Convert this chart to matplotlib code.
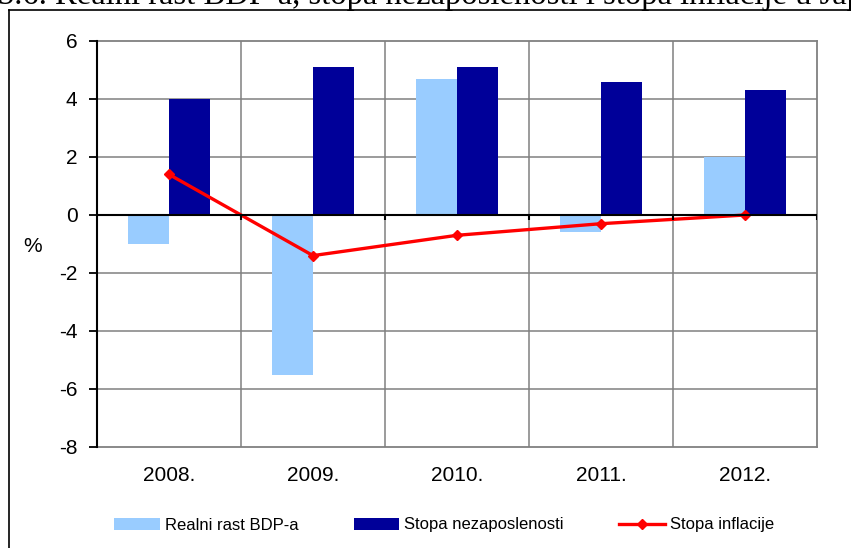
import matplotlib
matplotlib.use("Agg")
import matplotlib.pyplot as plt
from matplotlib.lines import Line2D
import numpy as np

plt.rcParams['axes.unicode_minus'] = False
plt.rcParams['font.family'] = ['Liberation Sans', 'DejaVu Sans']

years = ["2008.", "2009.", "2010.", "2011.", "2012."]
gdp_growth = [-1.0, -5.5, 4.7, -0.6, 2.0]
unemployment = [4.0, 5.1, 5.1, 4.6, 4.3]
inflation = [1.4, -1.4, -0.7, -0.3, 0.0]
yticks = [-8, -6, -4, -2, 0, 2, 4, 6]
labels = ["Realni rast BDP-a", "Stopa nezaposlenosti", "Stopa inflacije"]
title = "5.6. Realni rast BDP-a, stopa nezaposlenosti i stopa inflacije u Japanu"

W, H = 851, 548
fig = plt.figure(figsize=(W / 100, H / 100), dpi=100)
ax = fig.add_axes([97 / W, 1 - 447 / H, (817 - 97) / W, (447 - 41) / H])

x = np.arange(len(years))
bw = 1 / 3.5
b1 = ax.bar(x - bw / 2, gdp_growth, bw, color="#99CCFF", zorder=3, label=labels[0])
b2 = ax.bar(x + bw / 2, unemployment, bw, color="#000099", zorder=3, label=labels[1])
ln, = ax.plot(x, inflation, color="#FF0000", lw=2.4, marker="D", ms=5.5, zorder=5,
              label=labels[2])

ax.set_xlim(-0.5, len(years) - 0.5)
ax.set_ylim(yticks[0], yticks[-1])
ax.set_yticks(yticks)
ax.set_yticklabels([str(v) for v in yticks])
ax.set_xticks(x)
ax.set_xticklabels(years)

grid_c = "#808080"
for v in yticks[1:-1]:
    ax.axhline(v, color=grid_c, lw=1.1, zorder=1)
for b in np.arange(0.5, len(years) - 0.5, 1):
    ax.axvline(b, color=grid_c, lw=1.1, zorder=1)

for s in ["top", "right", "bottom"]:
    ax.spines[s].set_color(grid_c)
    ax.spines[s].set_linewidth(1.3)
ax.spines["left"].set_color("black")
ax.spines["left"].set_linewidth(1.5)
ax.spines["left"].set_zorder(6)

# zero axis with small tick marks at category boundaries
ax.axhline(0, color="black", lw=1.5, zorder=6)
bounds = np.arange(-0.5, len(years) + 0.5, 1)
ax.vlines(bounds[1:], 0, -0.18, color="black", lw=1.5, zorder=6)

ax.tick_params(axis="y", direction="out", length=6, width=1.3, pad=8,
               labelsize=15, color="black")
ax.tick_params(axis="x", length=0, pad=14, labelsize=15)

fig.text(33 / W, 1 - 247 / H, "%", fontsize=15, ha="center", va="center")

fig.legend(handles=[b1, b2, ln], labels=labels, loc="center",
           bbox_to_anchor=(444 / W, 1 - 525 / H), ncol=3, frameon=False,
           fontsize=12, handlelength=2.75, handleheight=0.75, handletextpad=0.3,
           columnspacing=3.3, borderpad=0.2)

# outer frame (extends beyond right and bottom edges)
fig.add_artist(Line2D([9 / W, 9 / W], [-0.1, 1 - 10 / H], transform=fig.transFigure,
                      color="black", lw=1.2))
fig.add_artist(Line2D([9 / W, 1.1], [1 - 10 / H, 1 - 10 / H], transform=fig.transFigure,
                      color="black", lw=1.2))

# cropped caption at top (cut off in the reference as well)
fig.text(-2 / W, 1 - 4 / H, title, fontsize=23.5, ha="left", va="baseline",
         family=["Liberation Serif", "DejaVu Serif"])

fig.savefig("out.png", dpi=100)
